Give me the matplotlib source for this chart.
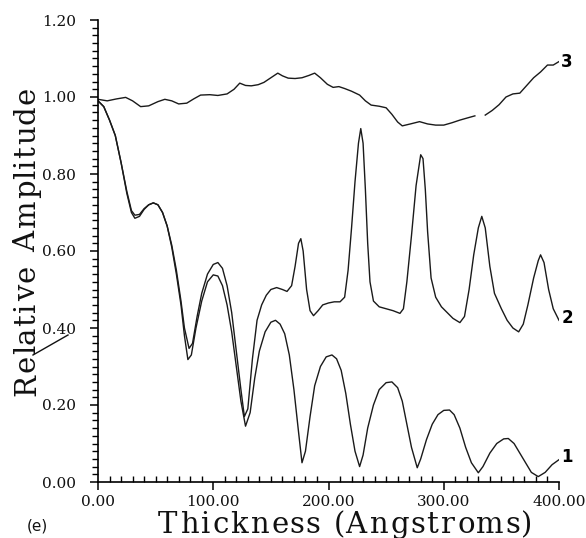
import numpy as np
import matplotlib
matplotlib.use("Agg")
import matplotlib.pyplot as plt
from matplotlib.ticker import MultipleLocator, FormatStrFormatter
from matplotlib.textpath import TextPath
from matplotlib.font_manager import FontProperties
from matplotlib.lines import Line2D

# ---------------- data ----------------
x1 = [0, 5, 10, 15, 20, 25, 29, 32, 36, 40, 44, 48, 52, 56, 60, 64, 68, 72, 75, 78,
      81, 85, 90, 95, 100, 104, 108, 112, 116, 120, 124, 128, 132, 136, 140, 145, 150,
      154, 158, 162, 166, 170, 174, 177, 180, 184, 188, 193, 198, 203, 207, 211, 215,
      219, 223, 227, 230, 234, 239, 244, 250, 255, 260, 264, 268, 272, 277, 280, 285,
      290, 295, 300, 305, 309, 314, 319, 324, 330, 334, 340, 346, 352, 356, 361, 366,
      371, 376, 382, 388, 394, 400]
y1 = [0.99, 0.975, 0.94, 0.90, 0.83, 0.75, 0.70, 0.685, 0.69, 0.708, 0.72, 0.725, 0.72,
      0.70, 0.665, 0.61, 0.54, 0.46, 0.38, 0.318, 0.33, 0.40, 0.47, 0.52, 0.538, 0.535,
      0.51, 0.46, 0.39, 0.30, 0.21, 0.145, 0.18, 0.27, 0.34, 0.39, 0.415, 0.42, 0.41,
      0.385, 0.33, 0.24, 0.13, 0.05, 0.08, 0.17, 0.25, 0.30, 0.325, 0.33, 0.32, 0.29,
      0.23, 0.15, 0.08, 0.04, 0.07, 0.14, 0.20, 0.24, 0.258, 0.26, 0.245, 0.21, 0.15,
      0.09, 0.037, 0.06, 0.11, 0.15, 0.175, 0.186, 0.187, 0.175, 0.14, 0.09, 0.05,
      0.024, 0.04, 0.075, 0.10, 0.112, 0.113, 0.10, 0.075, 0.05, 0.025, 0.014, 0.025,
      0.045, 0.058]

x2 = [0, 5, 10, 15, 20, 25, 29, 32, 36, 40, 44, 48, 52, 56, 60, 64, 68, 72, 75, 79,
      82, 86, 90, 95, 100, 104, 108, 112, 116, 120, 124, 127, 130, 134, 138, 142, 146,
      150, 155, 160, 164, 168, 171, 174, 176, 178, 181, 184, 187, 191, 195, 200, 205,
      210, 214, 217, 220, 223, 226, 228, 230, 232, 234, 236, 239, 244, 250, 256, 262,
      265, 268, 272, 276, 280, 282, 284, 286, 289, 293, 298, 303, 308, 314, 318, 322,
      326, 330, 333, 336, 340, 344, 350, 355, 360, 365, 369, 373, 378, 382, 384, 387,
      391, 395, 400]
y2 = [0.99, 0.975, 0.94, 0.90, 0.83, 0.755, 0.705, 0.693, 0.695, 0.71, 0.72, 0.725,
      0.72, 0.70, 0.665, 0.615, 0.55, 0.47, 0.40, 0.347, 0.36, 0.43, 0.49, 0.54, 0.565,
      0.57, 0.555, 0.51, 0.44, 0.34, 0.24, 0.17, 0.19, 0.32, 0.42, 0.46, 0.485, 0.50,
      0.505, 0.50, 0.495, 0.51, 0.56, 0.62, 0.632, 0.60, 0.50, 0.445, 0.432, 0.445,
      0.46, 0.465, 0.468, 0.468, 0.48, 0.55, 0.66, 0.78, 0.88, 0.918, 0.88, 0.76, 0.62,
      0.52, 0.47, 0.455, 0.45, 0.445, 0.438, 0.45, 0.52, 0.64, 0.77, 0.85, 0.84, 0.76,
      0.65, 0.53, 0.48, 0.455, 0.44, 0.425, 0.414, 0.43, 0.50, 0.59, 0.66, 0.69, 0.66,
      0.56, 0.49, 0.45, 0.42, 0.40, 0.39, 0.41, 0.46, 0.53, 0.575, 0.59, 0.57, 0.50,
      0.45, 0.42]

x3 = [0, 8, 16, 24, 30, 37, 44, 52, 58, 64, 70, 77, 83, 89, 97, 104, 112, 118, 123,
      128, 133, 139, 144, 150, 156, 160, 165, 171, 177, 183, 188, 193, 199, 204, 209,
      214, 220, 227, 232, 237, 244, 250, 255, 260, 264, 271, 279, 286, 293, 300, 307,
      314, 321, 327, 331, 336, 342, 348, 354, 360, 366, 372, 378, 384, 390, 395, 400]
y3 = [0.994, 0.99, 0.995, 0.999, 0.99, 0.975, 0.977, 0.988, 0.994, 0.99, 0.982, 0.984,
      0.995, 1.005, 1.006, 1.004, 1.008, 1.02, 1.036, 1.03, 1.029, 1.032, 1.038, 1.05,
      1.062, 1.055, 1.049, 1.048, 1.05, 1.056, 1.062, 1.05, 1.033, 1.025, 1.027, 1.022,
      1.015, 1.005, 0.99, 0.979, 0.976, 0.972, 0.955, 0.935, 0.925, 0.93, 0.936, 0.93,
      0.927, 0.927, 0.933, 0.94, 0.946, 0.951, np.nan, 0.953, 0.965, 0.98, 1.0, 1.008,
      1.01, 1.03, 1.05, 1.065, 1.083, 1.083, 1.092]

curve_labels = ["1", "2", "3"]
xlabel_text = "Thickness (Angstroms)"
ylabel_text = "Relative Amplitude"
panel_tag = "(e)"

# ---------------- figure ----------------
W, H = 586, 538
fig = plt.figure(figsize=(W / 100, H / 100), dpi=100)
ax = fig.add_axes([98 / W, 1 - 482 / H, (559 - 98) / W, (482 - 20) / H])

line_kw = dict(color="#1a1a1a", lw=1.0)
ax.plot(x1, y1, **line_kw)
ax.plot(x2, y2, **line_kw)
ax.plot(x3, y3, **line_kw)

ax.set_xlim(0, 400)
ax.set_ylim(0, 1.2)
for s in ("top", "right"):
    ax.spines[s].set_visible(False)
for s in ("left", "bottom"):
    ax.spines[s].set_linewidth(1.2)

ax.xaxis.set_major_locator(MultipleLocator(100))
ax.xaxis.set_minor_locator(MultipleLocator(10))
ax.yaxis.set_major_locator(MultipleLocator(0.2))
ax.yaxis.set_minor_locator(MultipleLocator(0.02))
ax.xaxis.set_major_formatter(FormatStrFormatter("%.2f"))
ax.yaxis.set_major_formatter(FormatStrFormatter("%.2f"))

ax.tick_params(axis="x", which="major", direction="out", length=6, width=1.1, pad=3)
ax.tick_params(axis="x", which="minor", direction="in", length=4, width=1.0)
ax.tick_params(axis="y", which="major", direction="out", length=6, width=1.1, pad=10)
ax.tick_params(axis="y", which="minor", direction="out", length=4, width=1.0)
for lab in ax.get_xticklabels() + ax.get_yticklabels():
    lab.set_fontfamily("DejaVu Serif")
    lab.set_fontsize(11)
    lab.set_color("#111111")

# curve end labels
lab_kw = dict(fontsize=12, fontweight="bold", family="DejaVu Sans", ha="center",
              va="center", clip_on=False)
ax.text(407, 0.065, curve_labels[0], **lab_kw)
ax.text(407, 0.426, curve_labels[1], **lab_kw)
ax.text(407, 1.091, curve_labels[2], **lab_kw)


# ---------------- letter-spaced axis titles ----------------
def spaced_text(s, start, end, base, size, vertical=False, family="DejaVu Serif"):
    fp = FontProperties(family=family, size=size)
    k = fig.dpi / 72.0
    widths = []
    for ch in s:
        if ch == " ":
            widths.append(0.32 * size * k)
        else:
            ext = TextPath((0, 0), ch, prop=fp).get_extents()
            widths.append(ext.width * k)
    total = abs(end - start)
    track = (total - sum(widths)) / (len(s) - 1)
    pos = start
    for ch, w in zip(s, widths):
        if ch != " ":
            if vertical:
                fig.text(base / W, 1 - pos / H, ch, fontsize=size, family=family,
                         rotation=90, rotation_mode="anchor", ha="left",
                         va="baseline", color="#111111")
            else:
                fig.text(pos / W, 1 - base / H, ch, fontsize=size, family=family,
                         ha="left", va="baseline", color="#111111")
        if vertical:
            pos -= w + track
        else:
            pos += w + track


spaced_text(xlabel_text, 158, 528, 533, 21)
spaced_text(ylabel_text, 396, 90, 35, 21, vertical=True)

# small stray stroke near the y title
fig.add_artist(Line2D([33 / W, 68 / W], [1 - 355 / H, 1 - 335 / H],
                      color="#111111", lw=1.0))

fig.text(37 / W, 1 - 526 / H, panel_tag, fontsize=11, family="DejaVu Sans",
         ha="center", va="center", color="#111111")

fig.savefig("out.png", dpi=100)
